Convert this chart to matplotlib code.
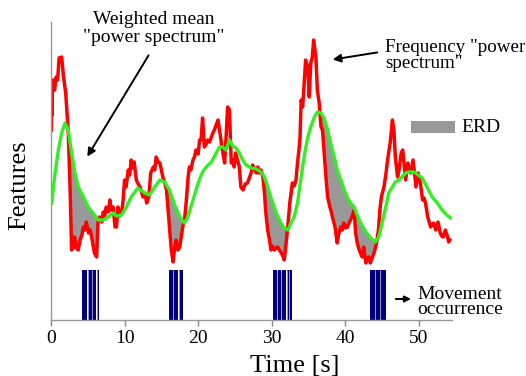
import numpy as np
import matplotlib
matplotlib.use("Agg")
import matplotlib.pyplot as plt
from matplotlib.patches import Rectangle

# === Dati (tempo in s, feature in unita' arbitrarie) ===
red_t = [0.05, 0.1, 0.15, 0.2, 0.3, 0.5, 0.6, 0.7, 0.9, 1.1, 1.45, 1.7, 2.0, 2.35, 2.6, 2.8, 3.0, 3.2,
         3.45, 3.7, 3.95, 4.2, 4.4, 4.6, 4.8, 5.1, 5.3, 5.5, 5.9, 6.2, 6.4, 6.6, 6.9, 7.1, 7.3, 7.5,
         7.8, 8.0, 8.2, 8.45, 8.7, 8.9, 9.1, 9.35, 9.6, 9.8, 10.0, 10.2, 10.5, 10.7, 10.9, 11.1,
         11.3, 11.6, 11.85, 12.1, 12.5, 12.8, 13.0, 13.3, 13.55, 13.9, 14.1, 14.3, 14.55, 14.8, 15.0,
         15.2, 15.5, 15.7, 16.1, 16.35, 16.6, 16.8, 17.0, 17.25, 17.5, 17.9, 18.15, 18.4, 18.6,
         18.8, 19.0, 19.3, 19.5, 19.7, 20.0, 20.2, 20.4, 20.6, 20.85, 21.1, 21.3, 21.55, 21.8, 22.0,
         22.2, 22.5, 22.7, 22.9, 23.1, 23.3, 23.6, 23.8, 24.0, 24.25, 24.5, 24.7, 24.9, 25.1, 25.35,
         25.6, 25.8, 26.1, 26.4, 26.7, 27.0, 27.2, 27.4, 27.65, 27.9, 28.1, 28.3, 28.55, 28.8, 29.0,
         29.2, 29.45, 29.7, 29.9, 30.1, 30.35, 30.6, 30.8, 31.05, 31.3, 31.5, 31.7, 32.0, 32.3,
         32.45, 32.6, 32.8, 33.05, 33.3, 33.5, 33.7, 33.85, 34.0, 34.2, 34.4, 34.6, 34.9, 35.1,
         35.3, 35.5, 35.7, 36.0, 36.2, 36.45, 36.7, 36.9, 37.2, 37.4, 37.6, 37.9, 38.1, 38.25,
         38.6, 38.9, 39.1, 39.4, 39.6, 39.8, 40.05, 40.3, 40.5, 40.7, 41.0, 41.2, 41.4, 41.65,
         41.9, 42.1, 42.3, 42.5, 42.8, 43.0, 43.2, 43.4, 43.65, 43.9, 44.25, 44.5, 44.7, 44.9,
         45.25, 45.5, 45.7, 45.9, 46.1, 46.4, 46.6, 46.8, 47.1, 47.3, 47.6, 47.8, 48.0, 48.2, 48.5,
         48.7, 48.9, 49.2, 49.4, 49.6, 49.9, 50.2, 50.5, 50.7, 50.9, 51.2, 51.4, 51.6, 52.0, 52.3,
         52.6, 52.9, 53.1, 53.3, 53.6, 53.9, 54.05, 54.2]
red_v = [190, 215, 205, 240, 232, 230, 238, 243, 240, 262, 263, 243, 227, 187, 130, 70, 72, 83,
         72, 70, 80, 85, 93, 90, 98, 87, 90, 84, 67, 63, 100, 103, 98, 108, 104, 113,
         108, 120, 110, 113, 93, 93, 113, 104, 107, 120, 140, 133, 150, 145, 160, 152,
         158, 140, 136, 133, 123, 126, 117, 123, 147, 153, 150, 163, 158, 157, 150,
         143, 136, 130, 93, 70, 58, 72, 80, 70, 73, 93, 100, 120, 140,
         153, 150, 160, 163, 170, 166, 180, 180, 202, 173, 176, 180, 178, 183, 187,
         190, 196, 200, 190, 180, 170, 157, 183, 213, 210, 157, 160, 153, 167, 160,
         153, 133, 130, 136, 137, 143, 147, 155, 151, 147, 153, 147, 150, 143, 128,
         107, 90, 80, 70, 74, 70, 72, 73, 70, 67, 64, 60, 80, 103,
         117, 125, 137, 134, 140, 157, 170, 183, 220, 213, 235, 260, 253, 223,
         257, 262, 280, 263, 230, 217, 193, 190, 160, 140, 123, 113, 108, 103,
         93, 77, 86, 93, 90, 97, 92, 93, 97, 100, 105, 110, 87, 76,
         70, 66, 63, 73, 57, 62, 63, 57, 62, 67, 77, 90, 110, 123,
         133, 145, 157, 168, 177, 200, 190, 163, 143, 150, 167, 170, 155, 140, 157,
         150, 147, 160, 148, 133, 147, 137, 120, 122, 117, 103, 98, 93, 97, 90,
         98, 87, 84, 83, 90, 83, 78, 80]

green_t = [0.1, 0.55, 1.0, 1.45, 1.9, 2.35, 2.8, 3.25, 3.7, 4.4, 5.05, 5.7, 6.4, 7.1, 7.8, 8.45,
           8.9, 9.6, 10.25, 10.9, 11.8, 12.75, 13.4, 14.1, 14.8, 15.45, 16.1, 16.8, 17.5, 18.15,
           18.6, 19.3, 20.0, 20.6, 21.1, 21.8, 22.45, 22.9, 23.3, 23.8, 24.25, 24.7, 25.15, 25.6,
           26.05, 26.5, 27.2, 27.9, 28.55, 29.0, 29.45, 29.9, 30.6, 31.25, 31.7, 32.2, 32.6, 33.05,
           33.5, 34.0, 34.4, 34.9, 35.3, 35.8, 36.2, 36.7, 37.1, 37.6, 38.0, 38.5, 38.9, 39.4,
           39.85, 40.3, 40.7, 41.2, 41.6, 42.1, 42.8, 43.45, 44.1, 44.55, 45.0, 45.5, 45.9, 46.4,
           46.8, 47.3, 47.7, 48.2, 48.6, 49.1, 49.4, 49.9, 50.45, 51.1, 51.8, 52.5, 53.15, 53.8, 54.3]
green_v = [117, 147, 170, 187, 197, 190, 167, 147, 133, 123, 113, 107, 100, 100, 103, 107,
           104, 105, 113, 123, 132, 127, 125, 133, 140, 138, 130, 115, 103, 97,
           103, 120, 137, 148, 153, 158, 167, 173, 173, 170, 180, 174, 172, 167,
           160, 155, 152, 151, 148, 143, 133, 122, 107, 97, 92, 90, 97, 103,
           117, 143, 163, 183, 193, 203, 208, 207, 202, 190, 177, 163, 150, 140,
           130, 122, 117, 113, 105, 97, 88, 82, 78, 83, 97, 113, 127, 133,
           138, 140, 143, 147, 148, 148, 148, 145, 142, 133, 123, 117, 110, 105, 102]

# finestre ERD (s)
erd_windows = [(2.2, 6.6), (15.5, 18.3), (28.3, 32.4), (36.5, 44.5)]

# occorrenza movimento: segmenti (inizio, fine) in s
movement = [(4.16, 4.93), (5.01, 5.56), (5.64, 6.15), (6.23, 6.5),
            (16.03, 16.52), (16.6, 17.3), (17.38, 17.93),
            (30.2, 30.72), (30.8, 31.27), (31.35, 31.97), (32.05, 32.32), (32.4, 32.8),
            (43.3, 43.97), (44.05, 44.65), (44.73, 45.5)]
movement_level = 50

xticks = [0, 10, 20, 30, 40, 50]

# === Stile ===
plt.rcParams['font.family'] = ['Liberation Serif', 'DejaVu Serif']

fig = plt.figure(figsize=(5.26, 3.76), dpi=100)
ax = fig.add_axes([51 / 526, 56 / 376, 401 / 526, 298 / 376])

# === ERD (area grigia) ===
grid = np.linspace(0.05, 54.2, 4000)
r_i = np.interp(grid, red_t, red_v)
g_i = np.interp(grid, green_t, green_v)
in_win = np.zeros_like(grid, dtype=bool)
for a, b in erd_windows:
    in_win |= (grid >= a) & (grid <= b)
ax.fill_between(grid, r_i, g_i, where=in_win & (g_i > r_i), interpolate=True,
                color='#999999', lw=0, zorder=1)

# === Curve ===
ax.plot(red_t, red_v, color='#ff0000', lw=2.5, zorder=2)
ax.plot(green_t, green_v, color='#33ee22', lw=2.4, zorder=3)

# === Movimento: blocchi pieni + righe chiare tra i segmenti ===
ax.broken_barh([(a, b - a) for a, b in movement], (0, movement_level),
               facecolors='#00007a', edgecolor='none', zorder=2)
gaps = [(movement[i][1] + movement[i + 1][0]) / 2 for i in range(len(movement) - 1)
        if movement[i + 1][0] - movement[i][1] < 0.5]
ax.vlines(gaps, 0, movement_level, colors='#9a9ac8', lw=0.7, zorder=2.5)

# === Assi ===
ax.set_xlim(0, 54.5)
ax.set_ylim(0, 298)
ax.set_xticks(xticks)
ax.set_yticks([])
ax.tick_params(axis='x', colors='#888888', labelcolor='black', labelsize=14, length=4, width=1)
for s in ['top', 'right']:
    ax.spines[s].set_visible(False)
for s in ['left', 'bottom']:
    ax.spines[s].set_color('#999999')
    ax.spines[s].set_linewidth(1)

ax.set_xlabel('Time [s]', fontsize=19)
ax.xaxis.set_label_coords(295 / 526, 1 - 366 / 376, transform=fig.transFigure)
ax.xaxis.label.set_va('center')
ax.set_ylabel('Features', fontsize=19)
ax.yaxis.set_label_coords(19 / 526, 1 - 185 / 376, transform=fig.transFigure)
ax.yaxis.label.set_va('center')

# === Annotazioni ===
fig.text(154 / 526, 1 - 11 / 376, 'Weighted mean\n"power spectrum"', ha='center', va='top',
         fontsize=14, linespacing=1.05)
ax.annotate('', xy=(4.74, 161), xycoords='data', xytext=(150, 376 - 53), textcoords='figure pixels',
            arrowprops=dict(arrowstyle='-|>', color='black', lw=1.4, mutation_scale=12))

fig.text(385 / 526, 1 - 39 / 376, 'Frequency "power\nspectrum"', ha='left', va='top',
         fontsize=13.7, linespacing=0.9)
ax.annotate('', xy=(37.9, 260), xycoords='data', xytext=(380, 376 - 52), textcoords='figure pixels',
            arrowprops=dict(arrowstyle='-|>', color='black', lw=1.4, mutation_scale=12))

fig.patches.append(Rectangle((411 / 526, 1 - 133 / 376), 44 / 526, 12 / 376,
                             transform=fig.transFigure, facecolor='#999999', edgecolor='none'))
fig.text(461 / 526, 1 - 127 / 376, 'ERD', ha='left', va='center', fontsize=14)

fig.text(417 / 526, 1 - 286 / 376, 'Movement\noccurrence', ha='left', va='top',
         fontsize=14, linespacing=0.85)
ax.annotate('', xy=(49.3, 21), xycoords='data', xytext=(393, 376 - 299), textcoords='figure pixels',
            arrowprops=dict(arrowstyle='-|>', color='black', lw=1.4, mutation_scale=9))

fig.savefig('out.png', dpi=100)
